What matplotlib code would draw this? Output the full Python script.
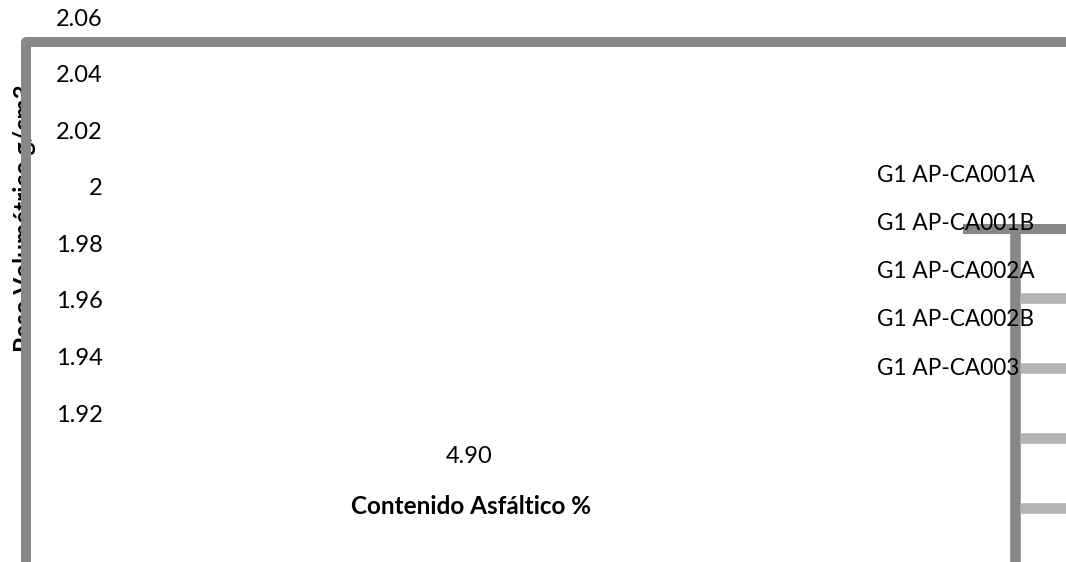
import matplotlib
matplotlib.use("Agg")
import matplotlib.pyplot as plt
from matplotlib.lines import Line2D

# chart values
x_values = [4.90]
x_labels = ["4.90"]
y_ticks = [1.92, 1.94, 1.96, 1.98, 2.00, 2.02, 2.04, 2.06]
y_labels = ["1.92", "1.94", "1.96", "1.98", "2", "2.02", "2.04", "2.06"]
series_names = ["G1 AP-CA001A", "G1 AP-CA001B", "G1 AP-CA002A",
                "G1 AP-CA002B", "G1 AP-CA003"]

plt.rcParams['font.family'] = ['Lato', 'DejaVu Sans']

W, H = 1066, 562
fig = plt.figure(figsize=(W / 100, H / 100), dpi=100)


def fx(x):
    return x / W


def fy(y):
    return 1 - y / H


ax = fig.add_axes([fx(106), fy(440), (832 - 106) / W, (440 - 12) / H])
ax.set_facecolor('none')
for s in ax.spines.values():
    s.set_visible(False)
ax.set_ylim(1.91046, 2.06177)
ax.set_yticks(y_ticks)
ax.set_yticklabels(y_labels)
ax.set_xlim(4.40, 5.40)
ax.set_xticks(x_values)
ax.set_xticklabels(x_labels)
ax.tick_params(axis='both', length=0, labelsize=17, colors='#000000')
ax.tick_params(axis='y', pad=2.2)
ax.tick_params(axis='x', pad=4)

grey = '#878787'
light = '#b4b4b4'

# axis titles (the y title sits under the frame)
fig.text(fx(471), fy(507), "Contenido Asfáltico %", ha='center', va='center',
         fontsize=17.5, fontweight='bold', zorder=1)
fig.text(fx(25), fy(218), "Peso Volumétrico g/cm3", ha='center', va='center',
         rotation=90, fontsize=17.5, fontweight='bold', zorder=1)

# outer frame
frame = Line2D([fx(26), fx(26), fx(1070)], [fy(570), fy(42), fy(42)],
               transform=fig.transFigure, color=grey, lw=7.2,
               solid_joinstyle='round', solid_capstyle='butt', zorder=5)
fig.add_artist(frame)

# legend box
box = Line2D([fx(963), fx(1070)], [fy(229), fy(229)], transform=fig.transFigure,
             color=grey, lw=7.2, solid_capstyle='butt', zorder=5)
fig.add_artist(box)
box_v = Line2D([fx(1015), fx(1015)], [fy(233), fy(570)], transform=fig.transFigure,
               color=grey, lw=7.6, solid_capstyle='butt', zorder=5)
fig.add_artist(box_v)
for y in [298, 368, 438, 508]:
    fig.add_artist(Line2D([fx(1020), fx(1070)], [fy(y), fy(y)],
                          transform=fig.transFigure, color=light, lw=7.6,
                          solid_capstyle='butt', zorder=5))

for i, name in enumerate(series_names):
    fig.text(fx(877), fy(175 + 48.3 * i), name, ha='left', va='center',
             fontsize=16.3, zorder=10)

fig.savefig('out.png', dpi=100)
